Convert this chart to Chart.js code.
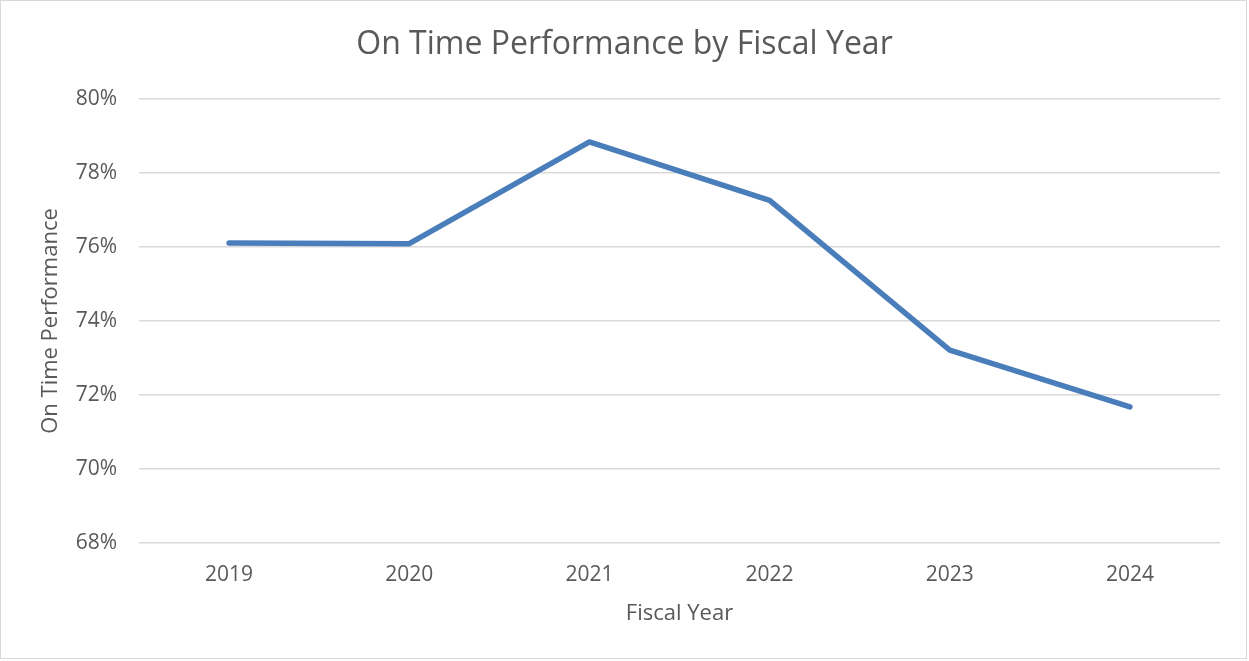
<!DOCTYPE html>
<html>
<head>
<meta charset="utf-8">
<script src="https://cdn.jsdelivr.net/npm/chart.js@4"></script>
<style>
  html, body { margin: 0; padding: 0; background: #fff; }
  #wrap { position: relative; width: 1249px; height: 661px; }
  #frame { position: absolute; left: 0; top: 0; width: 1245px; height: 657px; border: 1px solid #d9d9d9; pointer-events: none; }
</style>
</head>
<body>
<div id="wrap">
  <canvas id="c"></canvas>
  <div id="frame"></div>
</div>
<script>
const categories = ['2019', '2020', '2021', '2022', '2023', '2024'];
const onTimePerformance = [76.11, 76.09, 78.84, 77.26, 73.21, 71.68];
const yTicks = [68, 70, 72, 74, 76, 78, 80];

const FONT = "'Open Sans', sans-serif";
const TEXT = '#595959';

new Chart(document.getElementById('c'), {
  type: 'line',
  data: {
    labels: categories,
    datasets: [{
      label: 'On Time Performance',
      data: onTimePerformance,
      borderColor: '#4a7ebb',
      backgroundColor: '#4a7ebb',
      borderWidth: 5.5,
      borderCapStyle: 'round',
      borderJoinStyle: 'round',
      pointRadius: 0,
      tension: 0,
      fill: false
    }]
  },
  options: {
    responsive: true,
    maintainAspectRatio: false,
    animation: false,
    layout: { padding: 0 },
    plugins: {
      legend: { display: false },
      tooltip: { enabled: false },
      title: {
        display: true,
        text: 'On Time Performance by Fiscal Year',
        color: TEXT,
        font: { family: FONT, size: 32, weight: 'normal', lineHeight: 1.2 },
        padding: { top: 26, bottom: 34.6 }
      }
    },
    scales: {
      x: {
        offset: true,
        grid: { display: false, drawTicks: false },
        border: { display: false },
        ticks: { color: TEXT, font: { family: FONT, size: 21 }, padding: 19, maxRotation: 0 },
        title: {
          display: true, text: 'Fiscal Year', color: TEXT,
          font: { family: FONT, size: 22, lineHeight: 1.2 },
          padding: { top: 0, bottom: 34 }
        },
        afterFit: (s) => { s.height = 118; }
      },
      y: {
        min: 68, max: 80,
        afterBuildTicks: (s) => { s.ticks = yTicks.map(v => ({ value: v })); },
        grid: { color: '#d9d9d9', lineWidth: 1.5, drawTicks: false },
        border: { display: false },
        ticks: {
          color: TEXT, font: { family: FONT, size: 21 }, padding: 22,
          callback: (v) => v + '%'
        },
        title: {
          display: true, text: 'On Time Performance', color: TEXT,
          font: { family: FONT, size: 22, lineHeight: 1.2 },
          padding: { top: 38, bottom: 0 }
        },
        afterFit: (s) => { s.width = 139; }
      },
      yRightSpacer: {
        position: 'right',
        min: 68, max: 80,
        grid: { display: false, drawTicks: false },
        border: { display: false },
        ticks: { display: false },
        afterFit: (s) => { s.width = 29; }
      }
    }
  }
});
</script>
</body>
</html>
